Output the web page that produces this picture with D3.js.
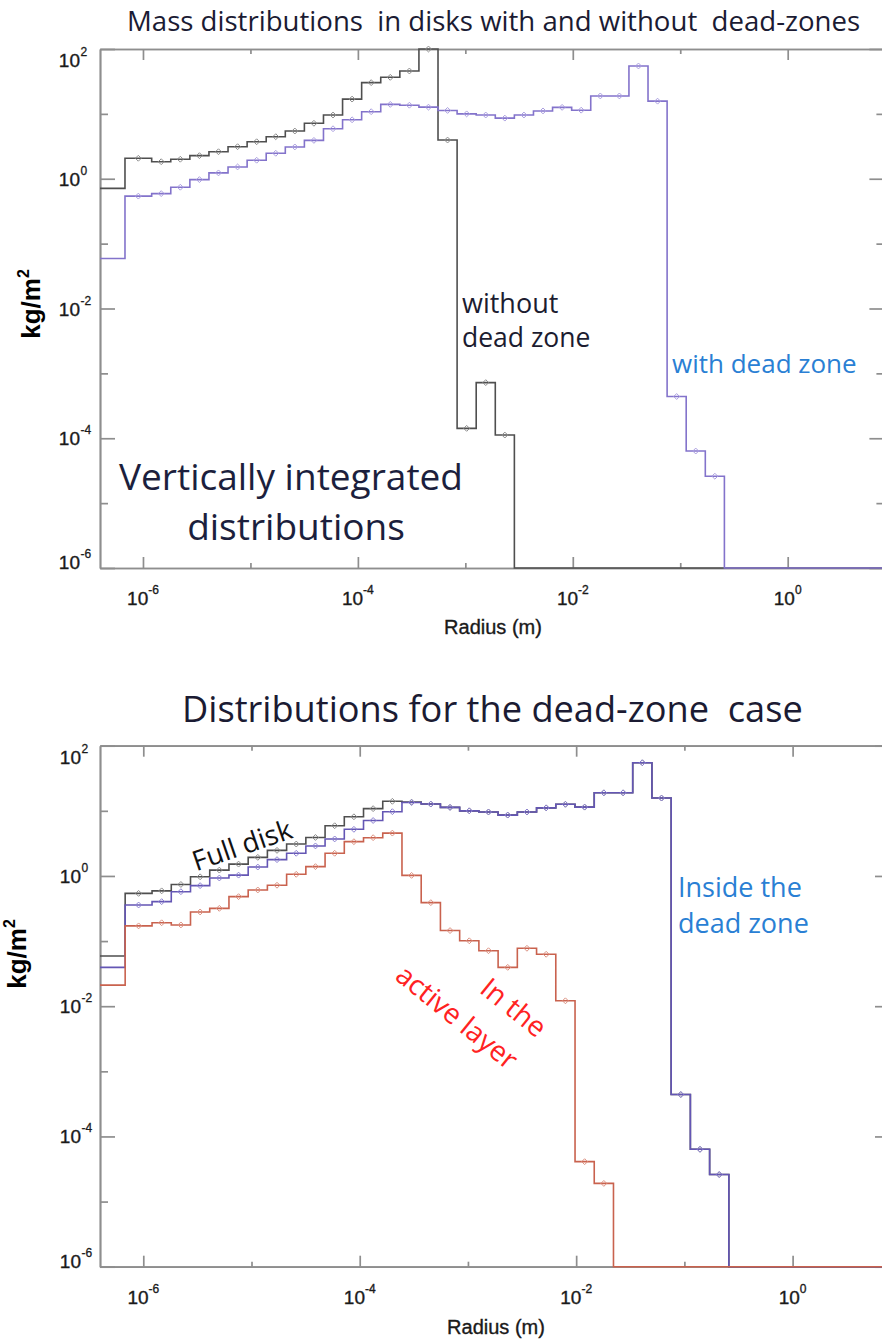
<!DOCTYPE html>
<html>
<head>
<meta charset="utf-8">
<script src="https://cdn.jsdelivr.net/npm/d3@7"></script>
<style>
  html, body { margin: 0; padding: 0; background: #fff; }
  svg { display: block; }
</style>
</head>
<body>
<svg id="fig" width="882" height="1340"></svg>
<script>
// ---- size bins: bin i spans radiusEdges[i] .. radiusEdges[i+1] (metres) ----
const radiusEdges = [
  1.0e-7, 6.80e-7, 1.205e-6, 1.814e-6, 2.731e-6, 4.111e-6, 6.189e-6, 9.316e-6,
  1.402e-5, 2.111e-5, 3.178e-5, 4.784e-5, 7.202e-5, 1.084e-4, 1.632e-4, 2.457e-4,
  3.699e-4, 5.568e-4, 8.383e-4, 1.262e-3, 1.900e-3, 2.860e-3, 4.306e-3, 6.482e-3,
  9.763e-3, 1.469e-2, 2.212e-2, 3.331e-2, 5.013e-2, 7.548e-2, 1.136e-1, 1.711e-1,
  2.576e-1, 3.878e-1
];

// ---- surface density per bin (kg/m^2) ----
// disk without a dead zone (upper panel, black)
const withoutDeadZone = [
  0.71, 2.07, 1.83, 2.0, 2.27, 2.61, 3.12, 3.72, 4.45, 5.44, 7.16, 9.6, 16.9,
  30.3, 36.6, 45.8, 120, 3.95, 1.42e-4, 7.2e-4, 1.12e-4, 0, 0, 0, 0, 0, 0, 0,
  0, 0, 0, 0, 0
];
// disk with a dead zone, vertically integrated (upper panel purple, lower panel "Full disk")
const withDeadZone = [
  0.059, 0.54, 0.59, 0.74, 0.97, 1.23, 1.52, 1.93, 2.47, 3.09, 3.9, 5.9, 8.1,
  10.8, 14.0, 13.6, 12.7, 11.3, 10.0, 9.6, 8.6, 9.6, 11.1, 12.6, 11.4, 18.9,
  18.9, 54.7, 15.7, 4.4e-4, 6.35e-5, 2.6e-5, 0
];
// material inside the dead zone (lower panel, purple)
const insideDeadZone = [
  0.0395, 0.358, 0.403, 0.573, 0.71, 0.93, 1.03, 1.37, 1.78, 2.23, 2.89, 3.7,
  5.2, 7.1, 9.7, 13.4, 12.7, 11.3, 10.0, 9.6, 8.6, 9.6, 11.1, 12.6, 11.4, 18.9,
  18.9, 54.7, 15.7, 4.4e-4, 6.35e-5, 2.6e-5, 0
];
// material in the active layer (lower panel, red)
const activeLayer = [
  0.0211, 0.171, 0.191, 0.177, 0.28, 0.318, 0.481, 0.609, 0.72, 1.06, 1.39,
  2.23, 3.36, 3.87, 4.55, 1.02, 0.389, 0.145, 0.101, 0.0711, 0.0395, 0.0775,
  0.0627, 0.0121, 4.1e-5, 1.9e-5, 0, 0, 0, 0, 0, 0, 0
];

// ---- axes ----
const xDomain = [Math.pow(10, -6.4), Math.pow(10, 0.9)];
const yDomain = [1e-6, 1e2];
const xMajorPowers = [-6, -4, -2, 0];
const xMinorPowers = [-5, -3, -1];
const yMajorPowers = [2, 0, -2, -4, -6];
const yMinorPowers = [1, -1, -3, -5];

const svg = d3.select('#fig');
svg.append('rect').attr('width', 882).attr('height', 1340).attr('fill', '#fff');

const AXIS = '#8e8e8e';
const TICKFONT = '"Liberation Sans", Arial, Helvetica, sans-serif';
const NOTEFONT = '"Open Sans", "Noto Sans", sans-serif';

function drawPanel(p) {
  const g = svg.append('g');
  const x = d3.scaleLog().domain(xDomain).range([p.left, p.right]).clamp(true);
  const y = d3.scaleLog().domain(yDomain).range([p.bottom, p.top]).clamp(true);
  const pw = v => Math.pow(10, v);

  const addAxis = (axis, tr) => g.append('g')
    .attr('transform', tr)
    .call(axis)
    .call(s => {
      s.selectAll('path, line').attr('stroke', AXIS).attr('stroke-width', 1.7);
      s.selectAll('text').remove();
    });

  // frame with inward ticks on all four sides
  addAxis(d3.axisBottom(x).tickValues(xMajorPowers.map(pw)).tickSize(-11).tickSizeOuter(0), `translate(0,${p.bottom})`);
  addAxis(d3.axisBottom(x).tickValues(xMinorPowers.map(pw)).tickSize(-5).tickSizeOuter(0), `translate(0,${p.bottom})`);
  addAxis(d3.axisTop(x).tickValues(xMajorPowers.map(pw)).tickSize(-11).tickSizeOuter(0), `translate(0,${p.top})`);
  addAxis(d3.axisTop(x).tickValues(xMinorPowers.map(pw)).tickSize(-5).tickSizeOuter(0), `translate(0,${p.top})`);
  addAxis(d3.axisLeft(y).tickValues(yMajorPowers.map(pw)).tickSize(-15).tickSizeOuter(0), `translate(${p.left},0)`);
  addAxis(d3.axisLeft(y).tickValues(yMinorPowers.map(pw)).tickSize(-8).tickSizeOuter(0), `translate(${p.left},0)`);
  addAxis(d3.axisRight(y).tickValues(yMajorPowers.map(pw)).tickSize(-15).tickSizeOuter(0), `translate(${p.right},0)`);
  addAxis(d3.axisRight(y).tickValues(yMinorPowers.map(pw)).tickSize(-8).tickSizeOuter(0), `translate(${p.right},0)`);

  // x tick labels: 10 with superscript exponent, centred on the tick
  xMajorPowers.forEach(e => {
    const t = g.append('text')
      .attr('x', x(pw(e))).attr('y', p.bottom + 37)
      .attr('text-anchor', 'middle')
      .attr('font-family', TICKFONT).attr('font-size', 19)
      .attr('fill', '#1a1a1a').attr('stroke', '#1a1a1a').attr('stroke-width', 0.35);
    t.append('tspan').text('10');
    t.append('tspan').attr('dy', -11).attr('font-size', 12).text(String(e));
  });

  // y tick labels; the extreme ones are kept inside the frame
  yMajorPowers.forEach(e => {
    const yy = Math.min(Math.max(y(pw(e)), p.top + 11), p.bottom - 6) + 7;
    g.append('text')
      .attr('x', p.labelX).attr('y', yy)
      .attr('text-anchor', 'end')
      .attr('font-family', TICKFONT).attr('font-size', 19)
      .attr('fill', '#1a1a1a').attr('stroke', '#1a1a1a').attr('stroke-width', 0.35)
      .text('10');
    g.append('text')
      .attr('x', p.labelX + 0.5).attr('y', yy - 11)
      .attr('font-family', TICKFONT).attr('font-size', 12)
      .attr('fill', '#1a1a1a').attr('stroke', '#1a1a1a').attr('stroke-width', 0.3)
      .text(String(e));
  });

  // axis titles
  g.append('text')
    .attr('x', p.xTitle[0]).attr('y', p.xTitle[1])
    .attr('text-anchor', 'middle')
    .attr('font-family', TICKFONT).attr('font-size', 20)
    .attr('fill', '#1a1a1a').attr('stroke', '#1a1a1a').attr('stroke-width', 0.35)
    .text('Radius (m)');
  const yt = g.append('text')
    .attr('transform', `translate(${p.yTitle[0]},${p.yTitle[1]}) rotate(-90)`)
    .attr('text-anchor', 'middle')
    .attr('font-family', TICKFONT).attr('font-size', 26).attr('font-weight', 'bold')
    .attr('fill', '#000');
  yt.append('tspan').text('kg/m');
  yt.append('tspan').attr('dy', -11).attr('font-size', 16).text('2');

  // histogram-style step curves
  const line = d3.line()
    .x(d => x(d[0]))
    .y(d => y(Math.max(d[1], yDomain[0])));

  p.series.forEach(s => {
    const pts = [];
    s.values.forEach((v, i) => {
      pts.push([radiusEdges[i], v], [radiusEdges[i + 1], v]);
    });
    pts.push([xDomain[1], s.values[s.values.length - 1]]);
    g.append('path')
      .attr('d', line(pts))
      .attr('fill', 'none')
      .attr('stroke', s.color)
      .attr('stroke-width', 1.6)
      .attr('stroke-linejoin', 'miter');

    const marks = s.values
      .map((v, i) => ({ r: Math.sqrt(radiusEdges[i] * radiusEdges[i + 1]), v }))
      .filter(d => d.v > 0 && d.r > xDomain[0]);
    g.append('g').selectAll('path')
      .data(marks)
      .join('path')
      .attr('transform', d => `translate(${x(d.r)},${y(d.v)})`)
      .attr('d', d3.symbol(d3.symbolDiamond2, 22)())
      .attr('fill', 'none')
      .attr('stroke', s.markColor)
      .attr('stroke-width', 1);
  });

  return { x, y, g };
}

// ---------------- upper panel ----------------
svg.append('text')
  .attr('x', 127).attr('y', 31)
  .attr('font-family', NOTEFONT).attr('font-size', 27.6)
  .attr('fill', '#1b1b33')
  .style('white-space', 'pre')
  .text('Mass distributions  in disks with and without  dead-zones');

drawPanel({
  left: 100, right: 884.4, top: 49, bottom: 568, labelX: 80,
  xTitle: [493, 634], yTitle: [40, 304],
  series: [
    { values: withoutDeadZone, color: '#4f4f4f', markColor: '#8c8c8c' },
    { values: withDeadZone, color: '#8373cb', markColor: '#ab9fe0' }
  ]
});

const upperNotes = svg.append('g').attr('font-family', NOTEFONT);
upperNotes.append('text').attr('x', 291).attr('y', 490).attr('text-anchor', 'middle')
  .attr('font-size', 37).attr('fill', '#1c1f3d').text('Vertically integrated');
upperNotes.append('text').attr('x', 296).attr('y', 540).attr('text-anchor', 'middle')
  .attr('font-size', 37).attr('fill', '#1c1f3d').text('distributions');
upperNotes.append('text').attr('x', 462).attr('y', 313)
  .attr('font-size', 27).attr('fill', '#1c1c30').text('without');
upperNotes.append('text').attr('x', 462).attr('y', 347)
  .attr('font-size', 26.5).attr('fill', '#1c1c30').text('dead zone');
upperNotes.append('text').attr('x', 672).attr('y', 373)
  .attr('font-size', 26).attr('fill', '#2a7fd4').text('with dead zone');

// ---------------- lower panel ----------------
svg.append('text')
  .attr('x', 182).attr('y', 722)
  .attr('font-family', NOTEFONT).attr('font-size', 36.2)
  .attr('fill', '#1b1b33')
  .style('white-space', 'pre')
  .text('Distributions for the dead-zone  case');

drawPanel({
  left: 100, right: 890, top: 745.7, bottom: 1266.7, labelX: 81,
  xTitle: [496, 1334], yTitle: [26, 954],
  series: [
    { values: withDeadZone, color: '#4f4f4f', markColor: '#8c8c8c' },
    { values: insideDeadZone, color: '#6456b4', markColor: '#8d82d2' },
    { values: activeLayer, color: '#c9624e', markColor: '#dc9282' }
  ]
});

const lowerNotes = svg.append('g').attr('font-family', NOTEFONT);
lowerNotes.append('text')
  .attr('transform', 'translate(242,845) rotate(-19)')
  .attr('text-anchor', 'middle').attr('dy', '0.36em')
  .attr('font-size', 27.5).attr('fill', '#111').text('Full disk');
lowerNotes.append('text').attr('x', 678).attr('y', 897)
  .attr('font-size', 27).attr('fill', '#2a7fd4').text('Inside the');
lowerNotes.append('text').attr('x', 678).attr('y', 933)
  .attr('font-size', 27).attr('fill', '#2a7fd4').text('dead zone');
const red = lowerNotes.append('g')
  .attr('transform', 'translate(457,1017) rotate(39)')
  .attr('font-size', 28).attr('fill', '#ff2222').attr('text-anchor', 'middle');
red.append('text').attr('x', 38).attr('y', -43).attr('dy', '0.35em').text('In the');
red.append('text').attr('x', 0).attr('y', 0).attr('dy', '0.35em').text('active layer');
</script>
</body>
</html>
